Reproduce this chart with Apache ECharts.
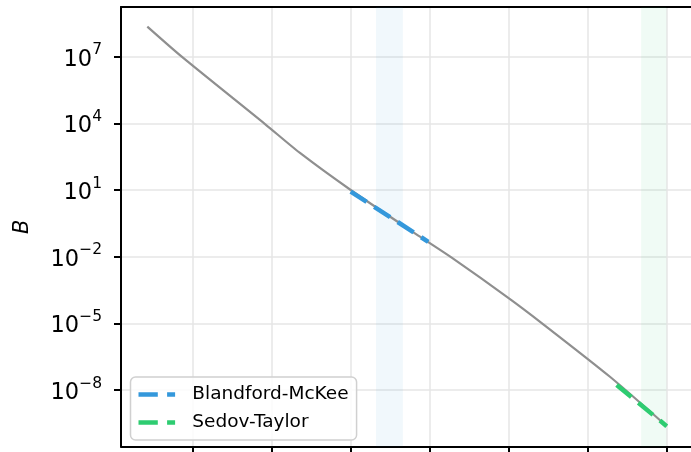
<!DOCTYPE html>
<html>
<head>
<meta charset="utf-8">
<script src="https://cdn.jsdelivr.net/npm/echarts@6/dist/echarts.min.js"></script>
<style>html,body{margin:0;padding:0;background:#fff}#c{width:691px;height:452px}</style>
</head>
<body>
<div id="c"></div>
<script>
// Gray curve (x in axis units, B values)
const grayX = [0.421, 0.857, 1.913, 2.356, 2.999, 3.877, 4.279, 5.005, 5.440, 6.285, 7.004];
const grayB = [2.24e8, 1.0e7, 9.3e3, 468, 10.1, 0.080, 9.1e-3, 1.35e-4, 9.2e-6, 4.0e-8, 2.4e-10];
// Blandford-McKee segment
const bmX = [2.999, 3.982];
const bmB = [8.6, 0.047];
// Sedov-Taylor segment
const stX = [6.370, 7.004];
const stB = [1.7e-8, 2.4e-10];
// shaded bands
const bandBM = [3.32, 3.66];
const bandST = [6.68, 7.0];
// ticks
const xTicks = [1, 2, 3, 4, 5, 6, 7];
const yTickExp = [-8, -5, -2, 1, 4, 7];

const toPts = (xs, bs) => xs.map((x, i) => [x, Math.log10(bs[i])]);
const FONT = 'DejaVu Sans';
const DASH_ICON = 'path://M0,0H19.3V4.5H0Z M28.6,0H36.6V4.5H28.6Z';

const chart = echarts.init(document.getElementById('c'), null, {renderer: 'canvas'});
chart.setOption({
  animation: false,
  backgroundColor: '#fff',
  textStyle: {fontFamily: FONT},
  grid: {left: 121, right: -1.5, top: 7, bottom: 5.5, outerBoundsMode: 'none', containLabel: false},
  xAxis: [{
    type: 'value', min: 0.0875, max: 7.331, position: 'bottom',
    axisLine: {show: true, onZero: false, lineStyle: {color: '#000', width: 2}},
    axisTick: {show: true, length: 7, lineStyle: {color: '#000', width: 2}, customValues: xTicks},
    axisLabel: {show: false, customValues: xTicks},
    splitLine: {show: true, lineStyle: {color: '#e6e6e6', width: 1.5}}
  }, {
    type: 'value', min: 0.0875, max: 7.331, position: 'top',
    axisLine: {show: true, onZero: false, lineStyle: {color: '#000', width: 2}},
    axisTick: {show: false}, axisLabel: {show: false}, splitLine: {show: false}
  }],
  yAxis: {
    type: 'value', min: -10.535, max: 9.236,
    name: 'B', nameLocation: 'middle', nameGap: 88, nameRotate: 90,
    nameTextStyle: {fontFamily: FONT, fontStyle: 'italic', fontSize: 21, color: '#000'},
    axisLine: {show: true, onZero: false, lineStyle: {color: '#000', width: 2}},
    axisTick: {show: true, length: 7, lineStyle: {color: '#000', width: 2}, customValues: yTickExp},
    axisLabel: {
      customValues: yTickExp, margin: 19, color: '#000',
      formatter: v => '{b|10}{s|' + (v < 0 ? '\u2212' + Math.abs(v) : String(v)) + '}',
      rich: {
        b: {fontFamily: FONT, fontSize: 22.5, lineHeight: 29, color: '#000', verticalAlign: 'bottom'},
        s: {fontFamily: FONT, fontSize: 15.5, lineHeight: 15.5, color: '#000', verticalAlign: 'top'}
      }
    },
    splitLine: {show: true, lineStyle: {color: '#e6e6e6', width: 1.5}}
  },
  legend: {
    orient: 'vertical', left: 130.5, top: 377,
    padding: [8, 8, 8, 8], itemGap: 9, itemWidth: 37, itemHeight: 4.5,
    backgroundColor: 'rgba(255,255,255,0.85)', borderColor: '#d0d0d0', borderWidth: 1.5, borderRadius: 5,
    textStyle: {fontFamily: FONT, fontSize: 18.5, color: '#000', padding: [0, 0, 0, 12]},
    data: [{name: 'Blandford-McKee', icon: DASH_ICON}, {name: 'Sedov-Taylor', icon: DASH_ICON}]
  },
  series: [
    {
      type: 'line', name: 'curve', data: toPts(grayX, grayB), symbol: 'none', z: 2, smooth: 0.25,
      lineStyle: {color: '#8f8f8f', width: 2.2},
      markArea: {
        silent: true,
        data: [
          [{xAxis: bandBM[0], itemStyle: {color: 'rgba(52,152,219,0.07)'}}, {xAxis: bandBM[1]}],
          [{xAxis: bandST[0], itemStyle: {color: 'rgba(46,204,113,0.07)'}}, {xAxis: bandST[1]}]
        ]
      }
    },
    {
      type: 'line', name: 'Blandford-McKee', data: toPts(bmX, bmB), symbol: 'none', z: 3,
      itemStyle: {color: '#3498db'},
      lineStyle: {color: '#3498db', width: 4.5, type: [19, 9]}
    },
    {
      type: 'line', name: 'Sedov-Taylor', data: toPts(stX, stB), symbol: 'none', z: 3,
      itemStyle: {color: '#2ecc71'},
      lineStyle: {color: '#2ecc71', width: 4.5, type: [19, 9]}
    }
  ]
});
</script>
</body>
</html>
